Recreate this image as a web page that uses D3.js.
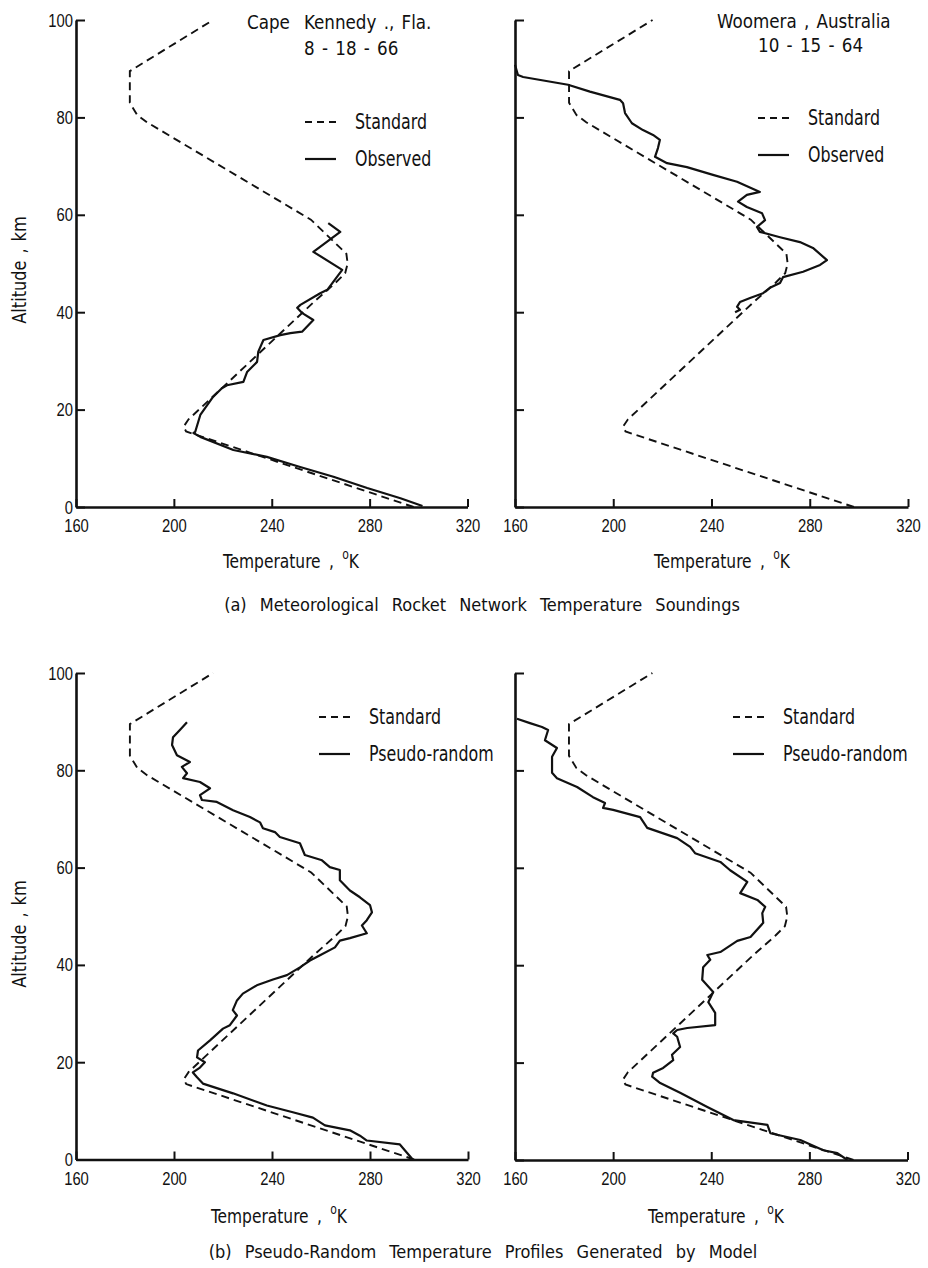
<!DOCTYPE html>
<html>
<head>
<meta charset="utf-8">
<script src="https://cdn.jsdelivr.net/npm/d3@7"></script>
<style>
  body { margin: 0; background: #fff; }
  svg { display: block; font-family: "DejaVu Sans Condensed", "Liberation Sans Narrow", sans-serif; }
  text { fill: #111; }
</style>
</head>
<body>
<script>
/*
  Data : [temperature K, altitude km]
*/
var tempTicks = [160, 200, 240, 280, 320];
var altTicks = [0, 20, 40, 60, 80, 100];

var standard = [[298, 0], [205, 15.5], [204, 16.5], [206, 18], [257, 42], [266, 46], [270, 48], [271, 50],
  [270.5, 52], [256, 59], [189, 79], [185, 80.5], [182, 83], [182, 89.5], [216, 100]];

var capeKennedy = [[301.6, 0.2], [292.6, 1.8], [279, 3.9], [265.2, 6.2], [251.6, 8.2], [238, 10.3], [224.3, 11.7],
  [210.8, 14.4], [208, 15.2], [208.7, 15.4], [210.8, 18.9], [216, 22.6], [219.6, 24.4], [221.7, 25], [228.4, 25.7],
  [229.9, 27.7], [234, 29.8], [234.5, 31.9], [236.6, 34.3], [243.5, 35.3], [247.6, 35.7], [252.4, 36], [257, 38.4],
  [252.5, 39.8], [250.4, 40.9], [251.7, 41.5], [259.8, 43.9], [262.7, 44.6], [268.8, 48.7], [257, 52.4],
  [268, 56.5], [263.1, 58.3]];

var woomera = [[249.6, 40], [251.6, 40.5], [250.4, 41.1], [251.6, 42.1], [255.7, 42.9], [261, 43.9], [263.8, 45],
  [267.9, 46], [269.1, 47.2], [277.3, 48.3], [284.2, 49.7], [287, 50.7], [281.3, 53.2], [276, 54.4], [267.9, 55.4],
  [259.7, 56.5], [258.5, 57.5], [261.8, 58.9], [260.6, 60.3], [254.4, 61.6], [250.8, 62.7], [254.4, 64.1],
  [259.7, 64.7], [250.4, 66.8], [240.6, 68.2], [230, 69.8], [221.9, 70.6], [217, 71.9], [218.2, 73.7], [219, 75.4],
  [216.2, 76.4], [212.1, 77.4], [207.6, 78.8], [204.8, 80.9], [204, 82.9], [202.7, 83.6], [190.5, 85.3],
  [181.6, 86.7], [163.3, 88.3], [161.2, 88.7], [160, 90.8]];

var pseudoLeft = [[297.1, 0.2], [294.2, 1.9], [292.2, 3.1], [278.7, 3.9], [275.9, 4.9], [271.8, 6], [261.6, 7],
  [256.7, 8.6], [248.5, 9.7], [237.9, 11.1], [224.1, 13.6], [211.8, 15.6], [209.4, 16.9], [207.7, 17.9],
  [210.6, 18.9], [212.6, 20], [209.4, 21], [209.8, 22.4], [214.7, 24.5], [220, 26.9], [222.8, 27.6], [225.7, 29.6],
  [224, 30.7], [225.7, 32.7], [228.1, 34.1], [233.8, 35.8], [240.4, 37], [246.1, 37.9], [251.4, 39.5],
  [255.5, 40.9], [259.6, 42], [265.7, 43.6], [267.7, 45], [271.8, 45.5], [278.7, 46.5], [276.7, 48.1],
  [278.7, 49.2], [280.8, 50.8], [280, 52.3], [275.9, 53.9], [271.8, 55.3], [267.7, 57.4], [267.7, 59.5],
  [263.6, 60.1], [260.4, 61.5], [253.4, 62.6], [251.4, 65], [243.2, 66.3], [241.2, 67.3], [236.3, 68.1],
  [235.1, 69.3], [231, 70.4], [224.1, 71.8], [217.5, 73.5], [211.4, 73.9], [210.6, 74.9], [214.7, 76.3],
  [210.6, 77.6], [203.7, 78.4], [205.3, 79.4], [203.2, 80.7], [206.5, 81.7], [201.2, 83.1], [199.2, 85.2],
  [199.6, 86.8], [202.4, 88.3], [205.3, 89.9]];

var pseudoRight = [[295.5, 0], [291.4, 1.4], [285.7, 2], [276.3, 4.1], [264.1, 5.5], [262.9, 7.2], [249, 8.2],
  [238.4, 10.9], [227.3, 13.8], [219.2, 15.8], [215.9, 17.1], [216.3, 17.9], [220.4, 18.9], [224.5, 20.5],
  [224, 21.6], [227.3, 23.2], [226.1, 25.3], [224.5, 26], [226.1, 26.7], [230.2, 27.1], [241.6, 27.7],
  [241.6, 30.2], [238.8, 32.4], [240.8, 34.5], [236.3, 37], [236.7, 39.6], [239.6, 41.1], [238.4, 42.1],
  [243.7, 42.7], [250.6, 45], [256, 45.8], [261.2, 48.7], [260.8, 50.7], [262, 52], [258.8, 53.4], [251.8, 54.8],
  [254.7, 57.1], [247.7, 59.5], [243.7, 61.2], [233.4, 63], [231.4, 64.3], [226.1, 66.1], [213.9, 68.2],
  [211, 70.4], [200, 71.9], [195.9, 72.3], [196.7, 73.3], [191.8, 74.5], [185.3, 76.6], [177.1, 78.4],
  [175.1, 79.5], [175.1, 82.8], [177.1, 84.6], [172.2, 86.2], [173.5, 88.3], [171, 88.9], [166.1, 89.7],
  [160.8, 90.6]];

/*
  Layout
*/
var width = 928, height = 1268;

var panels = [
  { x0: 76, x1: 467.5, y0: 507, y1: 20, labels: true, obs: capeKennedy, obsName: "Observed",
    legX: 305, legY: 122, altY: 270,
    title: [["Cape", 247, 29], ["Kennedy ., Fla.", 304, 29], ["8 - 18 - 66", 304, 55]],
    tempX: 291, tempY: 568 },
  { x0: 515, x1: 908, y0: 507, y1: 20, labels: false, obs: woomera, obsName: "Observed",
    legX: 758, legY: 118,
    title: [["Woomera , Australia", 717, 28], ["10 - 15 - 64", 758, 52]],
    tempX: 722, tempY: 568 },
  { x0: 76, x1: 468, y0: 1159.5, y1: 673, labels: true, obs: pseudoLeft, obsName: "Pseudo-random",
    legX: 319, legY: 717, altY: 934, title: [], tempX: 279, tempY: 1223 },
  { x0: 515, x1: 907.5, y0: 1160, y1: 673, labels: false, obs: pseudoRight, obsName: "Pseudo-random",
    legX: 733, legY: 717, title: [], tempX: 716, tempY: 1223 }
];

var svg = d3.select("body").append("svg")
  .attr("width", width)
  .attr("height", height);

// the scanned lettering is tall and narrow: squeeze text horizontally
function label(g, x, y, size, sx, str) {
  return g.append("text")
    .attr("transform", "translate(" + x + "," + y + ") scale(" + sx + ",1)")
    .style("font-size", size + "px")
    .text(str);
}

function drawPanel(p) {
  var x = d3.scaleLinear().domain([160, 320]).range([p.x0, p.x1]);
  var y = d3.scaleLinear().domain([0, 100]).range([p.y0, p.y1]);
  var g = svg.append("g");

  var line = d3.line()
    .x(function(d) { return x(d[0]); })
    .y(function(d) { return y(d[1]); });

  g.append("path")
    .datum(standard)
    .attr("d", line)
    .attr("fill", "none")
    .attr("stroke", "#111")
    .attr("stroke-width", 1.9)
    .attr("stroke-dasharray", "8,5");

  g.append("path")
    .datum(p.obs)
    .attr("d", line)
    .attr("fill", "none")
    .attr("stroke", "#111")
    .attr("stroke-width", 2.2)
    .attr("stroke-linejoin", "round");

  // axes
  var xAxis = d3.axisBottom(x)
    .tickValues(tempTicks)
    .tickSizeInner(-8)
    .tickSizeOuter(0)
    .tickPadding(12);
  var yAxis = d3.axisLeft(y)
    .tickValues(altTicks)
    .tickSizeInner(-9)
    .tickSizeOuter(0)
    .tickPadding(4);
  if (!p.labels) yAxis.tickFormat(function() { return ""; });

  var gx = g.append("g")
    .attr("transform", "translate(0," + p.y0 + ")")
    .call(xAxis);
  var gy = g.append("g")
    .attr("transform", "translate(" + p.x0 + ",0)")
    .call(yAxis);

  [gx, gy].forEach(function(a) {
    a.select(".domain").attr("stroke", "#111").attr("stroke-width", 2.6);
    a.selectAll(".tick line").attr("stroke", "#111").attr("stroke-width", 2);
    a.selectAll(".tick text")
      .attr("fill", "#111")
      .attr("transform", "scale(0.78,1)")
      .style("font-family", "inherit")
      .style("font-size", "19px");
  });

  // axis titles
  var t = g.append("text")
    .attr("transform", "translate(" + p.tempX + "," + p.tempY + ") scale(0.86,1)")
    .attr("text-anchor", "middle")
    .style("font-size", "20px")
    .style("word-spacing", "4px");
  t.append("tspan").text("Temperature , ");
  t.append("tspan").attr("dy", -9).style("font-size", "14px").text("o");
  t.append("tspan").attr("dy", 9).text("K");

  if (p.labels) {
    g.append("text")
      .attr("transform", "translate(26," + p.altY + ") rotate(-90) scale(0.9,1)")
      .attr("text-anchor", "middle")
      .style("font-size", "20px")
      .style("word-spacing", "2px")
      .text("Altitude , km");
  }

  // station title
  p.title.forEach(function(d) {
    label(g, d[1], d[2], 19, 0.98, d[0]).style("word-spacing", "2px");
  });

  // legend
  var leg = g.append("g");
  leg.append("line")
    .attr("x1", p.legX).attr("x2", p.legX + 31)
    .attr("y1", p.legY).attr("y2", p.legY)
    .attr("stroke", "#111").attr("stroke-width", 1.9)
    .attr("stroke-dasharray", "7,5");
  label(leg, p.legX + 50, p.legY + 7, 21, 0.84, "Standard");
  leg.append("line")
    .attr("x1", p.legX).attr("x2", p.legX + 31)
    .attr("y1", p.legY + 37).attr("y2", p.legY + 37)
    .attr("stroke", "#111").attr("stroke-width", 2.2);
  label(leg, p.legX + 50, p.legY + 44, 21, 0.84, p.obsName);
}

panels.forEach(drawPanel);

/*
  Captions
*/
svg.append("text")
  .attr("x", 482).attr("y", 611)
  .attr("text-anchor", "middle")
  .style("font-size", "18px")
  .style("word-spacing", "8px")
  .text("(a)  Meteorological  Rocket  Network  Temperature  Soundings");

svg.append("text")
  .attr("x", 483).attr("y", 1258)
  .attr("text-anchor", "middle")
  .style("font-size", "18px")
  .style("word-spacing", "8px")
  .text("(b)  Pseudo-Random  Temperature  Profiles  Generated  by  Model");
</script>
</body>
</html>
